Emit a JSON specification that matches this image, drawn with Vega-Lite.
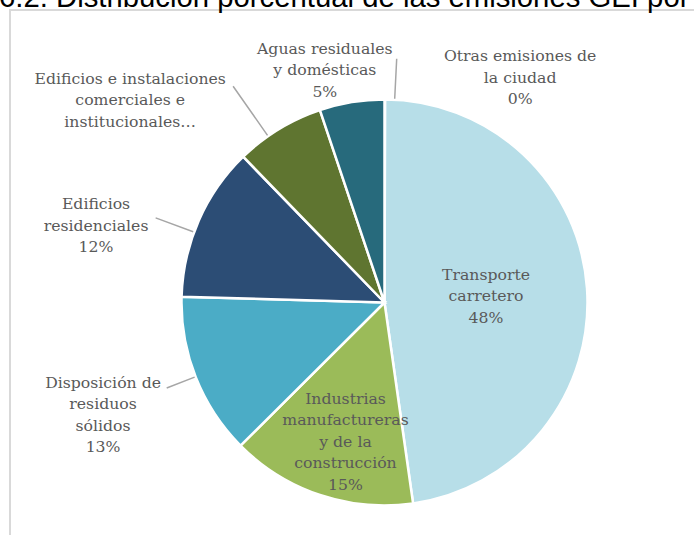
{
  "$schema": "https://vega.github.io/schema/vega-lite/v6.json",
  "width": 749,
  "height": 585,
  "autosize": "none",
  "padding": {"left": 10, "top": 10, "right": 0, "bottom": 0},
  "background": "white",
  "view": {"stroke": "#d9d9d9", "strokeWidth": 2},
  "title": {
    "text": "6.2. Distribución porcentual de las emisiones GEI por sector",
    "anchor": "start",
    "frame": "group",
    "baseline": "alphabetic",
    "offset": 0,
    "dy": 26.5,
    "dx": -11,
    "font": "Liberation Sans",
    "fontSize": 29.3,
    "fontWeight": "normal",
    "color": "#000000"
  },
  "config": {
    "view": {"stroke": "#d9d9d9", "strokeWidth": 2},
    "text": {"font": "DejaVu Serif", "fontSize": 15.7, "fill": "#595959", "align": "center", "baseline": "middle", "lineHeight": 21.5}
  },
  "data": {
    "values": [
      {"cat": "Otras emisiones de la ciudad", "value": 0.05, "order": 1, "label": ["Otras emisiones de", "la ciudad", "0%"]},
      {"cat": "Transporte carretero", "value": 47.7, "order": 2, "label": ["Transporte", "carretero", "48%"]},
      {"cat": "Industrias manufactureras y de la construcción", "value": 14.8, "order": 3, "label": ["Industrias", "manufactureras", "y de la", "construcción", "15%"]},
      {"cat": "Disposición de residuos sólidos", "value": 12.9, "order": 4, "label": ["Disposición de", "residuos", "sólidos", "13%"]},
      {"cat": "Edificios residenciales", "value": 12.3, "order": 5, "label": ["Edificios", "residenciales", "12%"]},
      {"cat": "Edificios e instalaciones comerciales e institucionales", "value": 7.1, "order": 6, "label": ["Edificios e instalaciones", "comerciales e", "institucionales…"]},
      {"cat": "Aguas residuales y domésticas", "value": 5.15, "order": 7, "label": ["Aguas residuales", "y domésticas", "5%"]}
    ]
  },
  "transform": [
    {"stack": "value", "groupby": [], "sort": [{"field": "order", "order": "ascending"}], "as": ["v0", "v1"]}
  ],
  "layer": [
    {
      "mark": {"type": "arc", "outerRadius": 203, "stroke": "white", "strokeWidth": 2.5},
      "encoding": {
        "theta": {"field": "v0", "type": "quantitative", "scale": {"domain": [0, 100]}},
        "theta2": {"field": "v1"},
        "color": {
          "field": "cat", "type": "nominal", "legend": null,
          "scale": {
            "domain": ["Otras emisiones de la ciudad", "Transporte carretero", "Industrias manufactureras y de la construcción", "Disposición de residuos sólidos", "Edificios residenciales", "Edificios e instalaciones comerciales e institucionales", "Aguas residuales y domésticas"],
            "range": ["#8064a2", "#b7dee8", "#9bbb59", "#4bacc6", "#2c4d75", "#5f7530", "#276a7c"]
          }
        }
      }
    },
    {
      "transform": [{"filter": "datum.order === 1"}],
      "mark": {"type": "arc", "innerRadius": 204, "outerRadius": 244, "stroke": "#a6a6a6", "strokeWidth": 1.5, "fill": null, "thetaOffset": 0.05, "theta2Offset": 0.05},
      "encoding": {"theta": {"field": "v0", "type": "quantitative"}, "theta2": {"field": "v0"}}
    },
    {
      "transform": [{"filter": "datum.order === 6"}],
      "mark": {"type": "arc", "innerRadius": 204, "outerRadius": 264, "stroke": "#a6a6a6", "strokeWidth": 1.5, "fill": null, "thetaOffset": 0.159, "theta2Offset": 0.159},
      "encoding": {"theta": {"field": "v0", "type": "quantitative"}, "theta2": {"field": "v0"}}
    },
    {
      "transform": [{"filter": "datum.order === 5"}],
      "mark": {"type": "arc", "innerRadius": 204, "outerRadius": 244, "stroke": "#a6a6a6", "strokeWidth": 1.5, "fill": null, "thetaOffset": 0.326, "theta2Offset": 0.326},
      "encoding": {"theta": {"field": "v0", "type": "quantitative"}, "theta2": {"field": "v0"}}
    },
    {
      "transform": [{"filter": "datum.order === 4"}],
      "mark": {"type": "arc", "innerRadius": 204, "outerRadius": 234, "stroke": "#a6a6a6", "strokeWidth": 1.5, "fill": null, "thetaOffset": 0.408, "theta2Offset": 0.408},
      "encoding": {"theta": {"field": "v0", "type": "quantitative"}, "theta2": {"field": "v0"}}
    },
    {
      "transform": [{"filter": "datum.order === 1"}],
      "mark": {"type": "text", "radius": 262.5, "thetaOffset": 0.543, "dy": -21.5},
      "encoding": {"theta": {"field": "v0", "type": "quantitative"}, "text": {"field": "label"}}
    },
    {
      "transform": [{"filter": "datum.order === 2"}],
      "mark": {"type": "text", "radius": 101.7, "thetaOffset": 1.5038, "dy": -21.5},
      "encoding": {"theta": {"field": "v0", "type": "quantitative"}, "text": {"field": "label"}}
    },
    {
      "transform": [{"filter": "datum.order === 3"}],
      "mark": {"type": "text", "radius": 144.4, "thetaOffset": 0.4149, "dy": -43},
      "encoding": {"theta": {"field": "v0", "type": "quantitative"}, "text": {"field": "label"}}
    },
    {
      "transform": [{"filter": "datum.order === 4"}],
      "mark": {"type": "text", "radius": 303.1, "thetaOffset": 0.4018, "dy": -32.25},
      "encoding": {"theta": {"field": "v0", "type": "quantitative"}, "text": {"field": "label"}}
    },
    {
      "transform": [{"filter": "datum.order === 5"}],
      "mark": {"type": "text", "radius": 298.5, "thetaOffset": 0.2318, "dy": -21.5},
      "encoding": {"theta": {"field": "v0", "type": "quantitative"}, "text": {"field": "label"}}
    },
    {
      "transform": [{"filter": "datum.order === 6"}],
      "mark": {"type": "text", "radius": 325, "thetaOffset": -0.129, "dy": -21.5},
      "encoding": {"theta": {"field": "v0", "type": "quantitative"}, "text": {"field": "label"}}
    },
    {
      "transform": [{"filter": "datum.order === 7"}],
      "mark": {"type": "text", "radius": 240, "thetaOffset": 0.0723, "dy": -21.5},
      "encoding": {"theta": {"field": "v0", "type": "quantitative"}, "text": {"field": "label"}}
    }
  ]
}
